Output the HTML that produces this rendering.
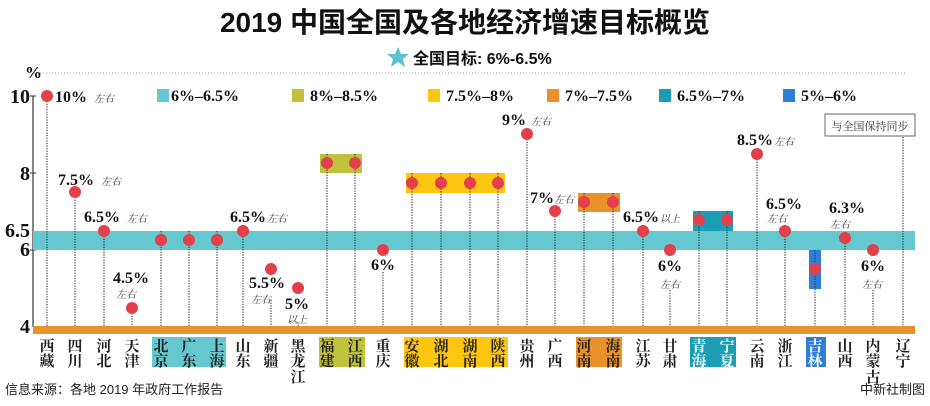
<!DOCTYPE html>
<html><head><meta charset="utf-8"><style>
body{margin:0;background:#fff;width:930px;height:401px;overflow:hidden}
svg text{font-family:"Liberation Serif","Noto Serif CJK SC",serif}
.c{font-family:"Liberation Sans","Noto Sans CJK SC",sans-serif}
</style></head><body>
<svg width="930" height="401" xmlns="http://www.w3.org/2000/svg">
<text x="465" y="32" text-anchor="middle" class="c" font-size="28" font-weight="bold" fill="#111">2019 中国全国及各地经济增速目标概览</text>
<polygon points="398,47 401,54 409,54 403,59 405,67 398,62 391,67 393,59 387,54 395,54" fill="#5bc2d0"/>
<text x="413" y="64" class="c" font-size="16" font-weight="bold" fill="#111">全国目标:   6%-6.5%</text>
<text x="25" y="78" font-size="17" font-weight="bold" fill="#111">%</text>
<line x1="40" y1="73" x2="905" y2="73" stroke="#999" stroke-dasharray="1,2"/>
<line x1="33" y1="96" x2="33" y2="327" stroke="#333" stroke-width="1.2"/>
<g font-size="20" font-weight="bold" fill="#111" text-anchor="end">
<text x="30" y="103">10</text><text x="30" y="180">8</text><text x="30" y="237">6.5</text><text x="30" y="256">6</text><text x="30" y="333">4</text></g>
<g stroke="#333"><line x1="30" y1="96" x2="36" y2="96"/><line x1="30" y1="173" x2="36" y2="173"/><line x1="30" y1="250" x2="36" y2="250"/></g>
<g font-size="16" font-weight="bold" fill="#111">
<rect x="157" y="89" width="12" height="13" fill="#64c7d1"/><text x="171" y="101">6%–6.5%</text>
<rect x="292" y="89" width="12" height="13" fill="#bfc23a"/><text x="310" y="101">8%–8.5%</text>
<rect x="428" y="89" width="12" height="13" fill="#fec611"/><text x="446" y="101">7.5%–8%</text>
<rect x="547" y="89" width="12" height="13" fill="#e9912a"/><text x="565" y="101">7%–7.5%</text>
<rect x="659" y="89" width="12" height="13" fill="#1a9db5"/><text x="677" y="101">6.5%–7%</text>
<rect x="783" y="89" width="12" height="13" fill="#2f7fd6"/><text x="801" y="101">5%–6%</text>
</g>
<rect x="33" y="231" width="882" height="19" fill="#65c8d1"/>
<rect x="320" y="154" width="42" height="19" fill="#bfc23a"/>
<rect x="406" y="173" width="99" height="20" fill="#fec611"/>
<rect x="578" y="193" width="42" height="19" fill="#e9912a"/>
<rect x="693" y="211" width="40" height="20" fill="#1a9db5"/>
<rect x="809" y="250" width="12" height="39" fill="#2f7fd6"/>
<rect x="33" y="326" width="882" height="8" fill="#e9912a"/>
<g stroke="#222" stroke-dasharray="1.3,1.3" stroke-width="1">
<line x1="47" y1="96" x2="47" y2="326"/><line x1="75" y1="192" x2="75" y2="326"/><line x1="104" y1="231" x2="104" y2="326"/><line x1="132" y1="308" x2="132" y2="326"/>
<line x1="161" y1="231" x2="161" y2="326"/><line x1="189" y1="231" x2="189" y2="326"/><line x1="217" y1="231" x2="217" y2="326"/><line x1="243" y1="231" x2="243" y2="326"/>
<line x1="271" y1="300" x2="271" y2="326"/><line x1="298" y1="322" x2="298" y2="326"/>
<line x1="327" y1="154" x2="327" y2="326"/><line x1="355" y1="154" x2="355" y2="326"/><line x1="383" y1="272" x2="383" y2="326"/>
<line x1="412" y1="173" x2="412" y2="326"/><line x1="441" y1="173" x2="441" y2="326"/><line x1="470" y1="173" x2="470" y2="326"/><line x1="498" y1="173" x2="498" y2="326"/>
<line x1="527" y1="134" x2="527" y2="326"/><line x1="555" y1="211" x2="555" y2="326"/><line x1="584" y1="193" x2="584" y2="326"/><line x1="613" y1="193" x2="613" y2="326"/>
<line x1="643" y1="231" x2="643" y2="326"/><line x1="670" y1="290" x2="670" y2="326"/><line x1="699" y1="211" x2="699" y2="326"/><line x1="727" y1="211" x2="727" y2="326"/>
<line x1="757" y1="154" x2="757" y2="326"/><line x1="785" y1="231" x2="785" y2="326"/><line x1="815" y1="250" x2="815" y2="326"/><line x1="845" y1="238" x2="845" y2="326"/>
<line x1="873" y1="290" x2="873" y2="326"/><line x1="903" y1="137" x2="903" y2="326"/>
</g>
<g fill="#e2404a">
<circle cx="47" cy="96" r="6"/><circle cx="75" cy="192" r="6"/><circle cx="104" cy="231" r="6"/><circle cx="132" cy="308" r="6"/>
<circle cx="161" cy="240" r="6"/><circle cx="189" cy="240" r="6"/><circle cx="217" cy="240" r="6"/><circle cx="243" cy="231" r="6"/>
<circle cx="271" cy="269" r="6"/><circle cx="298" cy="288" r="6"/><circle cx="327" cy="163" r="6"/><circle cx="355" cy="163" r="6"/>
<circle cx="383" cy="250" r="6"/><circle cx="412" cy="183" r="6"/><circle cx="441" cy="183" r="6"/><circle cx="470" cy="183" r="6"/><circle cx="498" cy="183" r="6"/>
<circle cx="527" cy="134" r="6"/><circle cx="555" cy="211" r="6"/><circle cx="584" cy="202" r="6"/><circle cx="613" cy="202" r="6"/>
<circle cx="643" cy="231" r="6"/><circle cx="670" cy="250" r="6"/><circle cx="699" cy="220" r="6"/><circle cx="727" cy="220" r="6"/>
<circle cx="757" cy="154" r="6"/><circle cx="785" cy="231" r="6"/><circle cx="815" cy="269" r="6"/><circle cx="845" cy="238" r="6"/><circle cx="873" cy="250" r="6"/>
</g>
<g font-size="16" font-weight="bold" fill="#111">
<text x="55" y="102">10%</text><text x="58" y="185">7.5%</text><text x="84" y="222">6.5%</text><text x="113" y="283">4.5%</text>
<text x="230" y="222">6.5%</text><text x="249" y="288">5.5%</text><text x="285" y="309">5%</text><text x="371" y="270">6%</text>
<text x="502" y="125">9%</text><text x="530" y="203">7%</text><text x="623" y="222">6.5%</text><text x="658" y="271">6%</text>
<text x="737" y="145">8.5%</text><text x="766" y="209">6.5%</text><text x="829" y="213">6.3%</text><text x="861" y="271">6%</text>
</g>
<g font-size="10" font-style="italic" fill="#333">
<text x="94" y="102">左右</text><text x="101" y="185">左右</text><text x="127" y="222">左右</text><text x="116" y="298">左右</text>
<text x="267" y="222">左右</text><text x="251" y="303">左右</text><text x="287" y="323">以上</text><text x="531" y="125">左右</text>
<text x="554" y="203">左右</text><text x="660" y="222">以上</text><text x="660" y="288">左右</text><text x="774" y="145">左右</text>
<text x="767" y="222">左右</text><text x="830" y="228">左右</text><text x="862" y="288">左右</text>
</g>
<rect x="825" y="114" width="90" height="22" fill="#fff" stroke="#666"/>
<text x="870" y="130" text-anchor="middle" font-size="11" fill="#333">与全国保持同步</text>
<rect x="152" y="337" width="74" height="30" fill="#65c8d1"/>
<rect x="319" y="337" width="46" height="30" fill="#bfc23a"/>
<rect x="404" y="337" width="104" height="30" fill="#fec611"/>
<rect x="576" y="337" width="46" height="30" fill="#e9912a"/>
<rect x="690" y="337" width="46" height="30" fill="#1a9db5"/>
<rect x="806" y="337" width="20" height="30" fill="#2f7fd6"/>
<g class="c" font-size="15" font-weight="bold" fill="#222" text-anchor="middle">
<text x="47" y="351">西</text><text x="47" y="366">藏</text>
<text x="75" y="351">四</text><text x="75" y="366">川</text>
<text x="104" y="351">河</text><text x="104" y="366">北</text>
<text x="132" y="351">天</text><text x="132" y="366">津</text>
<text x="161" y="351">北</text><text x="161" y="366">京</text>
<text x="189" y="351">广</text><text x="189" y="366">东</text>
<text x="217" y="351">上</text><text x="217" y="366">海</text>
<text x="243" y="351">山</text><text x="243" y="366">东</text>
<text x="271" y="351">新</text><text x="271" y="366">疆</text>
<text x="298" y="351">黑</text><text x="298" y="366">龙</text><text x="298" y="382">江</text>
<text x="327" y="351">福</text><text x="327" y="366">建</text>
<text x="355" y="351">江</text><text x="355" y="366">西</text>
<text x="383" y="351">重</text><text x="383" y="366">庆</text>
<text x="412" y="351">安</text><text x="412" y="366">徽</text>
<text x="441" y="351">湖</text><text x="441" y="366">北</text>
<text x="470" y="351">湖</text><text x="470" y="366">南</text>
<text x="498" y="351">陕</text><text x="498" y="366">西</text>
<text x="527" y="351">贵</text><text x="527" y="366">州</text>
<text x="555" y="351">广</text><text x="555" y="366">西</text>
<text x="584" y="351">河</text><text x="584" y="366">南</text>
<text x="613" y="351">海</text><text x="613" y="366">南</text>
<text x="643" y="351">江</text><text x="643" y="366">苏</text>
<text x="670" y="351">甘</text><text x="670" y="366">肃</text>
<text x="757" y="351">云</text><text x="757" y="366">南</text>
<text x="785" y="351">浙</text><text x="785" y="366">江</text>
<text x="845" y="351">山</text><text x="845" y="366">西</text>
<text x="873" y="351">内</text><text x="873" y="366">蒙</text><text x="873" y="382">古</text>
<text x="903" y="351">辽</text><text x="903" y="366">宁</text>
</g>
<g class="c" font-size="15" font-weight="bold" fill="#fff" text-anchor="middle">
<text x="699" y="351">青</text><text x="699" y="366">海</text>
<text x="727" y="351">宁</text><text x="727" y="366">夏</text>
<text x="815" y="351">吉</text><text x="815" y="366">林</text>
</g>
<text x="5" y="394" class="c" font-size="13" fill="#222">信息来源：各地 2019 年政府工作报告</text>
<text x="925" y="394" class="c" font-size="13" fill="#222" text-anchor="end">中新社制图</text>
</svg>
</body></html>
